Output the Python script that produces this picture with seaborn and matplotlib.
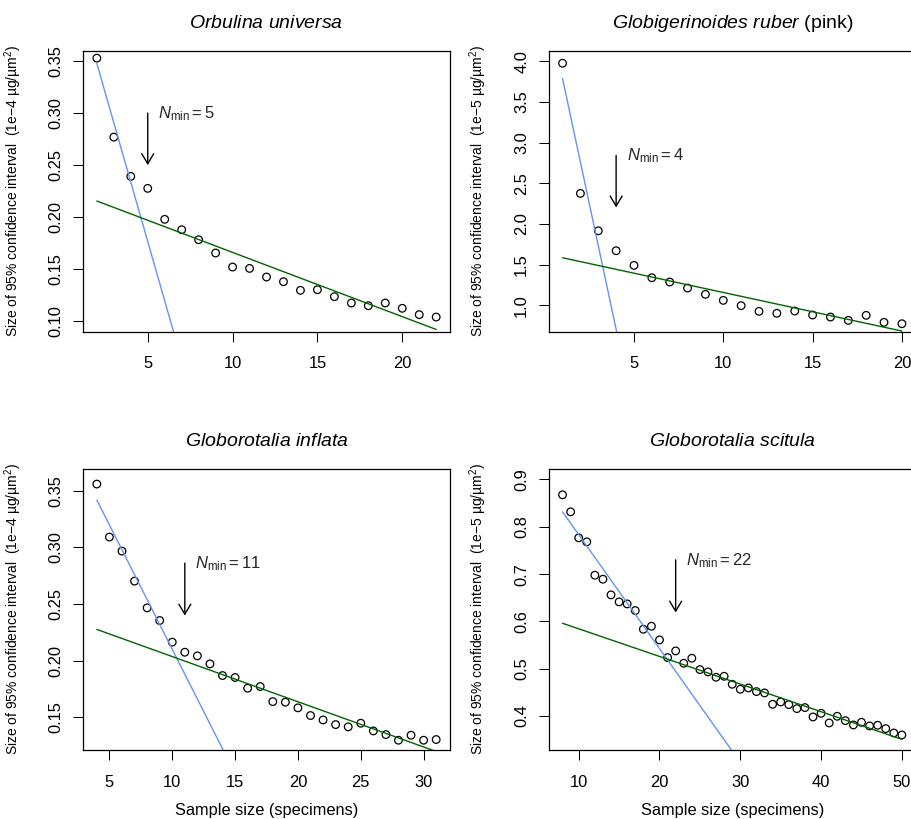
import matplotlib
matplotlib.use("Agg")
import matplotlib.pyplot as plt
import seaborn as sns


# DATA

species = [
    r"$\mathit{Orbulina\ universa}$",
    r"$\mathit{Globigerinoides\ ruber}$ (pink)",
    r"$\mathit{Globorotalia\ inflata}$",
    r"$\mathit{Globorotalia\ scitula}$",
]
units = ["1e\u22124", "1e\u22125", "1e\u22124", "1e\u22125"]

# sample sizes (specimens)
x_orbulina = list(range(2, 23))
x_ruber = list(range(1, 21))
x_inflata = list(range(4, 32))
x_scitula = list(range(8, 51))

# size of 95% confidence interval
y_orbulina = [0.3529, 0.2769, 0.2391, 0.2276, 0.1978, 0.1878, 0.1782, 0.1654,
              0.1519, 0.1506, 0.1423, 0.1378, 0.1295, 0.1301, 0.1234, 0.1173,
              0.1147, 0.1173, 0.1122, 0.1061, 0.1038]
y_ruber = [3.975, 2.375, 1.916, 1.671, 1.491, 1.339, 1.286, 1.212, 1.135, 1.061,
           0.996, 0.926, 0.902, 0.930, 0.881, 0.856, 0.815, 0.877, 0.791, 0.774]
y_inflata = [0.3559, 0.3091, 0.2967, 0.2702, 0.2466, 0.2354, 0.2163, 0.2074,
             0.2042, 0.1971, 0.1868, 0.1851, 0.1756, 0.1771, 0.1638, 0.1633,
             0.1583, 0.1515, 0.1476, 0.1435, 0.1415, 0.1447, 0.1379, 0.1347,
             0.1297, 0.1341, 0.1297, 0.1303]
y_scitula = [0.8676, 0.8316, 0.7766, 0.7681, 0.6976, 0.6891, 0.6560, 0.6412,
             0.6369, 0.6228, 0.5834, 0.5897, 0.5608, 0.5234, 0.5375, 0.5114,
             0.5220, 0.4980, 0.4931, 0.4818, 0.4839, 0.4670, 0.4564, 0.4592,
             0.4515, 0.4487, 0.4247, 0.4296, 0.4240, 0.4155, 0.4177, 0.3979,
             0.4056, 0.3852, 0.3993, 0.3901, 0.3810, 0.3866, 0.3789, 0.3803,
             0.3732, 0.3640, 0.3598]

# two-segment fits: intercept, slope
steep_fit = [(0.4620, -0.0571), (4.814, -1.027), (0.4296, -0.02196), (1.0243, -0.02409)]
flat_fit = [(0.2278, -0.00618), (1.632, -0.0474), (0.2435, -0.003992), (0.6427, -0.005843)]

n_min = [5, 4, 11, 22]
arrow_top = [0.300, 2.842, 0.2861, 0.730]
arrow_bottom = [0.250, 2.203, 0.2398, 0.6186]

x_ticks = [[5, 10, 15, 20], [5, 10, 15, 20], [5, 10, 15, 20, 25, 30], [10, 20, 30, 40, 50]]
y_ticks = [[0.10, 0.15, 0.20, 0.25, 0.30, 0.35],
           [1.0, 1.5, 2.0, 2.5, 3.0, 3.5, 4.0],
           [0.15, 0.20, 0.25, 0.30, 0.35],
           [0.4, 0.5, 0.6, 0.7, 0.8, 0.9]]
y_fmt = ["{:.2f}", "{:.1f}", "{:.2f}", "{:.1f}"]
x_lims = [(1.2, 22.8), (0.24, 20.76), (2.92, 32.08), (6.32, 51.68)]
y_lims = [(0.0897, 0.3599), (0.676, 4.127), (0.1211, 0.3691), (0.3281, 0.9219)]

xs = [x_orbulina, x_ruber, x_inflata, x_scitula]
ys = [y_orbulina, y_ruber, y_inflata, y_scitula]


# STYLE

sns.set_theme(style="ticks")
plt.rcParams["font.family"] = ["Liberation Sans", "DejaVu Sans"]
plt.rcParams["mathtext.fontset"] = "custom"
plt.rcParams["mathtext.rm"] = "Liberation Sans"
plt.rcParams["mathtext.it"] = "Liberation Sans:italic"
plt.rcParams["axes.edgecolor"] = "black"
plt.rcParams["axes.linewidth"] = 0.9

fig = plt.figure(figsize=(9.11, 8.19), dpi=100)

lefts = [0.0914, 0.6026, 0.0914, 0.6026]
bottoms = [0.5950, 0.5950, 0.0843, 0.0843]
width, height = 0.4023, 0.3429


# PANELS

for i in range(4):
    ax = fig.add_axes([lefts[i], bottoms[i], width, height])
    x, y = xs[i], ys[i]

    sns.scatterplot(x=x, y=y, ax=ax, s=30, marker="o",
                    facecolors="none", edgecolors="black", linewidth=0.9)

    ends = [x[0], x[-1]]
    a, b = steep_fit[i]
    sns.lineplot(x=ends, y=[a + b * e for e in ends], ax=ax,
                 color="#6495ED", linewidth=1.0)
    a, b = flat_fit[i]
    sns.lineplot(x=ends, y=[a + b * e for e in ends], ax=ax,
                 color="#006400", linewidth=1.0)

    ax.annotate("", xy=(n_min[i], arrow_bottom[i]), xytext=(n_min[i], arrow_top[i]),
                arrowprops=dict(arrowstyle="->, head_length=7.2, head_width=4.3",
                                mutation_scale=1, color="black", lw=1.0,
                                shrinkA=0, shrinkB=0))
    ax.annotate(rf"$N_{{\mathrm{{min}}}} = {n_min[i]}$", xy=(n_min[i], arrow_top[i]),
                xytext=(7.5, -3.8), textcoords="offset points",
                ha="left", va="baseline", fontsize=12)

    ax.set_xlim(*x_lims[i])
    ax.set_ylim(*y_lims[i])
    ax.set_xticks(x_ticks[i])
    ax.set_yticks(y_ticks[i])
    ax.set_yticklabels([y_fmt[i].format(v) for v in y_ticks[i]])
    ax.tick_params(axis="both", length=7.2, width=0.75, color="black",
                   labelsize=11.9, labelcolor="black")
    ax.tick_params(axis="x", pad=10.5)
    ax.tick_params(axis="y", pad=7, labelrotation=90)
    for lab in ax.get_yticklabels():
        lab.set_verticalalignment("center")

    ax.set_title(species[i], fontsize=14, pad=16.8, color="black")

    ax.set_ylabel(f"Size of 95% confidence interval  ({units[i]} \u00b5g/\u00b5m$^{{2}}$)",
                  fontsize=10, color="black")
    ax.yaxis.label.set_verticalalignment("center")
    ax.yaxis.set_label_coords(-0.192, 0.5)

    if i >= 2:
        ax.set_xlabel("Sample size (specimens)", fontsize=11.8, color="black")
        ax.xaxis.set_label_coords(0.5, -0.188)
    else:
        ax.set_xlabel("")

    ax.grid(False)

plt.savefig("out.png", dpi=100)
